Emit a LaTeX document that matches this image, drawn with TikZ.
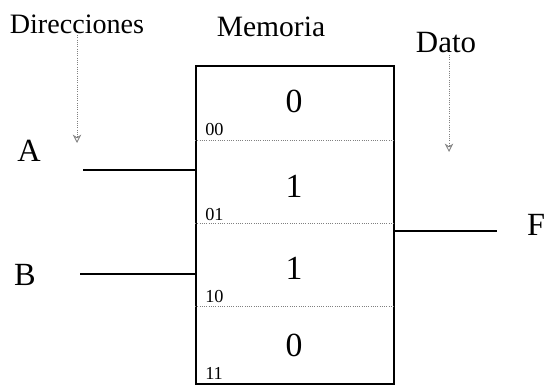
\documentclass[tikz,border=0pt]{standalone}
\usepackage{fontspec}
\setmainfont{Liberation Serif}
\usetikzlibrary{arrows.meta}

\tikzset{
	titulo/.style={font=\fontsize{#1}{24}\selectfont, inner sep=1pt},
	titulo/.default=20,
	letra/.style={font=\fontsize{23}{27}\selectfont, inner sep=1pt},
	bit/.style={font=\fontsize{24}{28}\selectfont, inner sep=1pt},
	direc/.style={font=\fontsize{13}{15}\selectfont, inner sep=0pt, anchor=south west},
	guia/.style={gray, densely dotted, line width=0.6pt, -{Stealth[open,length=6pt,width=6pt]}},
	cable/.style={line width=2pt},
	divisor/.style={gray, densely dotted, line width=0.6pt}
}

\begin{document}
\begin{tikzpicture}[x=0.025cm,y=-0.025cm]
\useasboundingbox (0,0) rectangle (544,387);

% titulos
\node [titulo] (direcciones) at (77,24) {Direcciones};
\node [titulo=21] (memoria) at (271,27) {Memoria};
\node [titulo=22] (dato) at (446,43) {Dato};

\coordinate (dirfin) at (77,143);
\coordinate (datofin) at (449,152);
\draw [guia] (direcciones.south -| dirfin) -- (dirfin);
\draw [guia] (dato.south -| datofin) -- (datofin);

% memoria de 4 posiciones
\node [draw, line width=1.3pt, inner sep=0pt, anchor=north west,
	minimum width=4.95cm, minimum height=7.95cm] (mem) at (195,65) {};
\foreach \y in {140,223,306} {
	\draw [divisor] (mem.west |- 0,\y) -- (mem.east |- 0,\y);
}
\foreach \b/\d/\y in {0/00/101,1/01/186,1/10/268,0/11/345} {
	\node [bit] (bit\d) at (294,\y) {\b};
	\node [direc] (dir\d) at (205,\y+35) {\d};
}

% entradas y salida
\node [letra] (A) at (29,151) {A};
\node [letra] (B) at (25,275) {B};
\node [letra] (F) at (536,225) {F};
\coordinate (ca) at (83,170);
\coordinate (cb) at (80,274);
\coordinate (cf) at (497,231);
\draw [cable] (ca) -- (ca -| mem.west);
\draw [cable] (cb) -- (cb -| mem.west);
\draw [cable] (cf -| mem.east) -- (cf);

\end{tikzpicture}
\end{document}
